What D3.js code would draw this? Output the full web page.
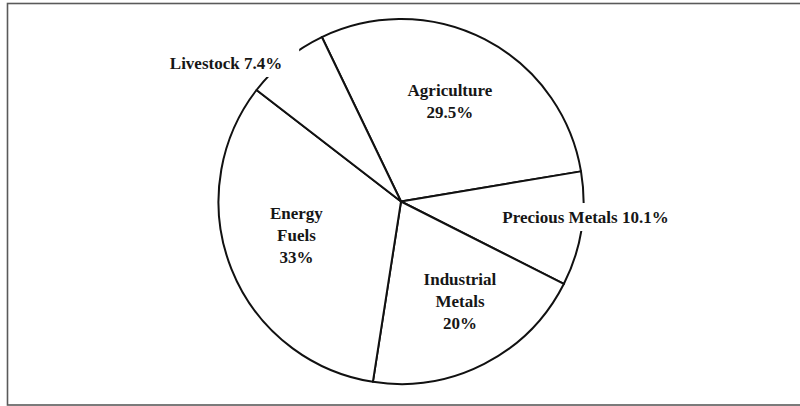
<!DOCTYPE html>
<html>
<head>
<meta charset="utf-8">
<script src="https://cdn.jsdelivr.net/npm/d3@7"></script>
<style>
  html, body { margin: 0; padding: 0; background: #fff; }
  svg { display: block; }
</style>
</head>
<body>
<svg id="chart" width="800" height="406"></svg>
<script>
// Commodity sector weights (percent), clockwise from the upper slice
const categories = ["Agriculture", "Precious Metals", "Industrial Metals", "Energy Fuels", "Livestock"];
const shares = [29.5, 10.1, 20, 33, 7.4];
// How each category name is broken into lines for its label
const nameLines = [["Agriculture"], ["Precious Metals"], ["Industrial", "Metals"], ["Energy", "Fuels"], ["Livestock"]];
// Whether the percentage sits on the same line as the name
const inlinePct = [false, true, false, false, true];

const width = 800, height = 406;
const cx = 401, cy = 201.5, radius = 182.5;
const fontSize = 17, lineGap = 22;

// Label centres relative to the pie centre, in units of the radius
const labelOffset = {
  "Agriculture": [0.268, -0.551],
  "Precious Metals": [1.011, 0.085],
  "Industrial Metals": [0.323, 0.548],
  "Energy Fuels": [-0.573, 0.184],
  "Livestock": [-0.959, -0.759]
};

const svg = d3.select("#chart");

// Outer frame
svg.append("rect")
  .attr("x", 7.5).attr("y", 3.5)
  .attr("width", width).attr("height", 401.5)
  .attr("fill", "none")
  .attr("stroke", "#5a5a5a")
  .attr("stroke-width", 1.6);

const data = categories.map((c, i) => ({ name: c, value: shares[i], lines: nameLines[i], inline: inlinePct[i] }));

const start = -25.7 * Math.PI / 180;
const pie = d3.pie().sort(null).value(d => d.value)
  .startAngle(start).endAngle(start + 2 * Math.PI);
const arc = d3.arc().innerRadius(0).outerRadius(radius);

const g = svg.append("g").attr("transform", `translate(${cx},${cy})`);

g.selectAll("path.slice")
  .data(pie(data))
  .join("path")
  .attr("class", "slice")
  .attr("d", arc)
  .attr("fill", "#fff")
  .attr("stroke", "#111")
  .attr("stroke-width", 2)
  .attr("stroke-linejoin", "round");

const fmt = v => `${v}%`;

const labels = g.selectAll("g.label")
  .data(pie(data))
  .join("g")
  .attr("class", "label")
  .attr("transform", d => {
    const o = labelOffset[d.data.name];
    return `translate(${o[0] * radius},${o[1] * radius})`;
  });

labels.each(function(d) {
  const sel = d3.select(this);
  const rows = d.data.inline
    ? [d.data.lines.join(" ") + " " + fmt(d.data.value)]
    : [...d.data.lines, fmt(d.data.value)];
  const bg = sel.append("rect").attr("fill", "#fff");
  const text = sel.append("text")
    .attr("text-anchor", "middle")
    .attr("font-family", "'Liberation Serif', 'Times New Roman', serif")
    .attr("font-weight", "bold")
    .attr("font-size", fontSize)
    .attr("fill", "#161616");
  const top = -(rows.length - 1) * lineGap / 2;
  rows.forEach((r, i) => {
    text.append("tspan")
      .attr("x", 0)
      .attr("y", top + i * lineGap + fontSize * 0.34)
      .text(r);
  });
  const bb = text.node().getBBox();
  const padX = 17, halfH = 14;
  bg.attr("x", bb.x - padX)
    .attr("y", top - halfH)
    .attr("width", bb.width + 2 * padX)
    .attr("height", (rows.length - 1) * lineGap + 2 * halfH);
});
</script>
</body>
</html>
